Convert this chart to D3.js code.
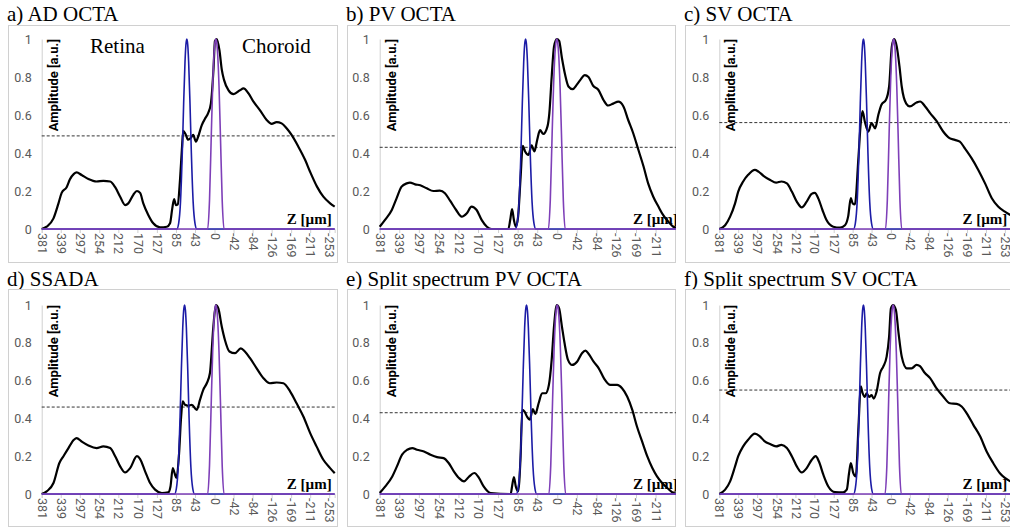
<!doctype html>
<html lang="en">
<head>
<meta charset="utf-8">
<script src="https://cdnjs.cloudflare.com/ajax/libs/d3/7.8.5/d3.min.js"></script>
<style>
  body { margin: 0; background: #fff; }
  svg { display: block; }
  .axis text { font-family: Roboto, sans-serif; font-size: 12.5px; fill: #595959; }
  .axis line, .axis path { stroke: #d0d0d0; }
  .title { font-family: 'Liberation Serif', serif; font-size: 21px; fill: #000; }
  .ytitle { font-family: Roboto, sans-serif; font-size: 13px; font-weight: bold; fill: #000; }
  .ztitle { font-family: 'Liberation Serif', serif; font-size: 15px; font-weight: bold; fill: #000; }
</style>
</head>
<body>
<script>

// x tick labels (depth in um) and y ticks
const zTicks = [381, 339, 297, 254, 212, 170, 127, 85, 43, 0, -42, -84, -126, -169, -211, -253];
const yTicks = [0, 0.2, 0.4, 0.6, 0.8, 1];
const zMax = 381, zMin = -265;

const panelTitles = ["a) AD OCTA", "b) PV OCTA", "c) SV OCTA",
                     "d) SSADA", "e) Split spectrum PV OCTA", "f) Split spectrum SV OCTA"];

// dashed threshold level per panel
const thresholds = [0.49, 0.43, 0.56, 0.46, 0.43, 0.55];

// centres of the two reference peaks per panel (um)
const blueCenters = [61, 68, 61, 66, 66, 61];
const purpleCenters = [-3, 1, -6, -3, 0, -5];

// peak shapes: offset from centre (um) -> amplitude
const peakOffsets = [22, 18, 14, 10, 7, 4, 2, 0, -2, -4, -7, -10, -14, -18, -22];
const bluePeak =    [0, 0.03, 0.14, 0.40, 0.66, 0.88, 0.97, 1, 0.97, 0.88, 0.66, 0.40, 0.14, 0.03, 0];
const purplePeak =  [0, 0.00, 0.15, 0.50, 0.75, 0.92, 0.98, 1, 0.98, 0.92, 0.75, 0.50, 0.15, 0.00, 0];

// black profiles [z (um), amplitude]
const adOcta = [[381,0],[370,0.012],[355,0.056],[344,0.135],[337,0.19],[326,0.22],[319,0.26],[310,0.29],[304,0.298],[293,0.284],[278,0.263],[260,0.25],[245,0.253],[230,0.25],[219,0.22],[208,0.17],[197,0.126],[190,0.135],[179,0.18],[171,0.2],[164,0.19],[157,0.135],[146,0.074],[135,0.03],[120,0.009],[105,0.012],[98,0.03],[93,0.11],[89,0.158],[85,0.126],[81,0.13],[76,0.26],[72,0.415],[69,0.517],[64,0.5],[58,0.47],[52,0.48],[47,0.495],[41,0.46],[36,0.486],[28,0.547],[21,0.58],[14,0.61],[8,0.66],[2,0.85],[-1,0.99],[-5,1.0],[-11,0.94],[-16,0.84],[-21,0.785],[-31,0.73],[-42,0.71],[-56,0.73],[-64,0.74],[-75,0.714],[-86,0.67],[-100,0.626],[-115,0.574],[-126,0.553],[-137,0.563],[-148,0.556],[-159,0.53],[-170,0.495],[-185,0.433],[-200,0.363],[-211,0.3],[-226,0.223],[-240,0.17],[-255,0.135],[-265,0.118]];

const pvOcta = [[381,0.012],[370,0.047],[355,0.1],[345,0.16],[334,0.223],[323,0.24],[316,0.244],[305,0.235],[294,0.23],[280,0.214],[266,0.2],[252,0.202],[241,0.188],[230,0.149],[217,0.1],[205,0.065],[194,0.083],[184,0.118],[173,0.1],[162,0.047],[151,0.012],[141,0],[105,0],[101,0.047],[97,0.105],[93,0.047],[89,0.012],[84,0.065],[79,0.258],[74,0.438],[69,0.408],[62,0.39],[55,0.44],[49,0.408],[43,0.47],[37,0.52],[30,0.5],[21,0.54],[17,0.61],[12,0.8],[7,0.96],[1,1.0],[-4,0.99],[-10,0.9],[-17,0.81],[-24,0.75],[-33,0.736],[-42,0.76],[-50,0.786],[-59,0.81],[-67,0.8],[-77,0.754],[-88,0.733],[-99,0.68],[-109,0.65],[-120,0.66],[-131,0.67],[-142,0.645],[-152,0.575],[-163,0.504],[-174,0.417],[-185,0.33],[-195,0.24],[-206,0.17],[-217,0.118],[-227,0.074],[-238,0.039],[-249,0.012],[-265,0]];

const svOcta = [[381,0],[368,0.02],[357,0.065],[346,0.135],[339,0.197],[328,0.25],[317,0.285],[302,0.311],[294,0.302],[283,0.28],[268,0.258],[255,0.244],[243,0.25],[231,0.24],[220,0.197],[209,0.144],[198,0.114],[187,0.144],[176,0.185],[169,0.19],[161,0.16],[152,0.1],[143,0.047],[128,0.012],[113,0.007],[102,0.02],[95,0.065],[89,0.162],[85,0.135],[80,0.13],[72,0.38],[67,0.557],[63,0.62],[58,0.566],[50,0.513],[43,0.557],[35,0.53],[28,0.6],[21,0.654],[11,0.68],[4,0.75],[-2,0.96],[-7,1.0],[-13,0.96],[-19,0.856],[-24,0.75],[-34,0.66],[-42,0.645],[-57,0.666],[-65,0.671],[-76,0.645],[-87,0.61],[-102,0.566],[-116,0.513],[-130,0.478],[-142,0.469],[-153,0.46],[-164,0.425],[-179,0.373],[-194,0.311],[-209,0.24],[-224,0.162],[-238,0.118],[-253,0.091],[-265,0.074]];

const ssada = [[381,0],[370,0.014],[355,0.058],[342,0.164],[333,0.2],[322,0.243],[310,0.287],[304,0.296],[293,0.278],[278,0.257],[260,0.243],[245,0.252],[230,0.243],[219,0.2],[208,0.146],[197,0.114],[186,0.137],[171,0.2],[164,0.185],[153,0.12],[142,0.058],[131,0.023],[116,0.005],[102,0.009],[97,0.04],[92,0.137],[88,0.11],[84,0.085],[78,0.217],[74,0.393],[70,0.49],[65,0.472],[58,0.467],[50,0.472],[39,0.445],[32,0.498],[25,0.55],[17,0.586],[10,0.64],[2.5,0.886],[-3,1.0],[-8.5,0.982],[-16,0.886],[-23,0.815],[-33,0.754],[-45,0.745],[-58,0.77],[-67,0.754],[-78,0.72],[-93,0.665],[-108,0.613],[-122,0.586],[-137,0.59],[-152,0.586],[-167,0.542],[-181,0.48],[-196,0.41],[-211,0.322],[-225,0.252],[-240,0.181],[-255,0.137],[-265,0.11]];

const splitPv = [[381,0.005],[369,0.04],[354,0.093],[344,0.146],[333,0.208],[322,0.234],[311,0.243],[301,0.234],[286,0.225],[272,0.208],[258,0.195],[244,0.19],[233,0.164],[222,0.12],[211,0.085],[200,0.067],[190,0.09],[178,0.111],[168,0.085],[158,0.04],[143,0.005],[100,0],[97,0.04],[93,0.09],[89,0.04],[84,0.014],[79,0.18],[75,0.445],[70.5,0.437],[65,0.41],[59,0.393],[52.5,0.449],[47,0.424],[40,0.48],[32.5,0.533],[25,0.533],[18,0.577],[12,0.71],[7,0.886],[1,1.0],[-4,0.982],[-10,0.886],[-15.5,0.8],[-23,0.71],[-32,0.683],[-42.5,0.7],[-53,0.745],[-60.5,0.759],[-67.5,0.741],[-78,0.7],[-89,0.665],[-100,0.613],[-114,0.577],[-128.5,0.577],[-139,0.56],[-150,0.516],[-161,0.445],[-171,0.357],[-182,0.278],[-193,0.2],[-204,0.137],[-214,0.093],[-225,0.058],[-236,0.032],[-250,0.005],[-265,0]];

const splitSv = [[381,0],[368,0.023],[357,0.067],[346,0.146],[339,0.2],[328,0.252],[317,0.287],[302,0.319],[291,0.305],[280,0.278],[268.5,0.264],[255,0.252],[243,0.26],[231,0.243],[220,0.2],[209,0.146],[198,0.114],[187,0.137],[176,0.18],[167,0.2],[160,0.173],[150,0.102],[139,0.04],[124,0.01],[106,0.009],[98,0.023],[93,0.11],[89,0.164],[83.5,0.11],[78,0.093],[72,0.357],[67,0.57],[63,0.535],[58,0.514],[54,0.532],[48,0.514],[43,0.523],[38,0.505],[32,0.54],[24,0.64],[17,0.674],[9.5,0.727],[4,0.833],[0,0.982],[-5,1.0],[-11,0.974],[-17,0.85],[-24,0.727],[-35,0.665],[-46,0.665],[-57,0.683],[-64.5,0.676],[-75.5,0.64],[-87,0.613],[-101,0.56],[-116,0.516],[-131,0.48],[-146,0.477],[-157,0.463],[-168,0.428],[-183,0.366],[-198,0.305],[-212.5,0.225],[-227,0.164],[-242,0.11],[-253,0.085],[-265,0.067]];

const profiles = [adOcta, pvOcta, svOcta, ssada, splitPv, splitSv];

// layout of the 3x2 grid (the source figure is a cropped montage)
const cols = [
  { left: 8,   right: 338,  x0: 41.7,  step: 19.17 },
  { left: 347, right: 676,  x0: 379.7, step: 19.7 },
  { left: 685, right: 1030, x0: 719.3, step: 19.04 }
];
const rows = [
  { top: 25,  bottom: 263, y1: 39,  y0: 229, titleY: 21 },
  { top: 289, bottom: 527, y1: 305, y0: 494, titleY: 286 }
];

const w = 1010, h = 529;
const svg = d3.select("body").append("svg").attr("width", w).attr("height", h);

function peakSeries(center, shape) {
  const pts = [[zMax, 0]];
  peakOffsets.forEach((o, i) => pts.push([center + o, shape[i]]));
  pts.push([zMin, 0]);
  return pts;
}

profiles.forEach((profile, i) => {
  const c = cols[i % 3], r = rows[Math.floor(i / 3)];
  const xEnd = c.x0 + (zMax - zMin) / 42.27 * c.step;

  const x = d3.scaleLinear().domain([zMax, zMin]).range([c.x0, xEnd]);
  const y = d3.scaleLinear().domain([0, 1]).range([r.y0, r.y1]);

  svg.append("clipPath").attr("id", "clip" + i)
    .append("rect")
    .attr("x", c.left).attr("y", r.top)
    .attr("width", c.right - c.left).attr("height", r.bottom - r.top);

  // title
  svg.append("text").attr("class", "title")
    .attr("x", c.left - 1).attr("y", r.titleY)
    .text(panelTitles[i]);

  const g = svg.append("g").attr("clip-path", "url(#clip" + i + ")");

  // frame
  g.append("rect")
    .attr("x", c.left + 0.5).attr("y", r.top + 0.5)
    .attr("width", c.right - c.left - 1).attr("height", r.bottom - r.top - 1)
    .attr("fill", "#fff").attr("stroke", "#d0d0d0");

  // y axis
  g.append("g").attr("class", "axis")
    .attr("transform", "translate(" + c.x0 + ",0)")
    .call(d3.axisLeft(y).tickValues(yTicks).tickSize(0).tickPadding(10)
      .tickFormat(d => d === 0 || d === 1 ? d : d3.format(".1f")(d)));

  // x axis with labels turned 90 degrees
  const xAxis = g.append("g").attr("class", "axis")
    .attr("transform", "translate(0," + r.y0 + ")")
    .call(d3.axisBottom(x).tickValues(zTicks.filter(v => x(v) < c.right - 6))
      .tickSize(4).tickFormat(d => d));
  xAxis.select(".domain").attr("stroke", "#d0d0d0");
  xAxis.selectAll(".tick text")
    .attr("transform", "rotate(90)")
    .attr("x", 4).attr("y", 0).attr("dy", "0.35em")
    .style("text-anchor", "start");

  // threshold
  g.append("line")
    .attr("x1", x(zMax)).attr("x2", x(zMin))
    .attr("y1", y(thresholds[i])).attr("y2", y(thresholds[i]))
    .attr("stroke", "#333").attr("stroke-width", 1).attr("stroke-dasharray", "3,2");

  // axis titles
  g.append("text").attr("class", "ytitle")
    .attr("transform", "translate(" + (c.x0 + 16) + "," + r.y1 + ") rotate(-90)")
    .attr("text-anchor", "end")
    .text("Amplitude [a.u.]");

  g.append("text").attr("class", "ztitle")
    .attr("x", x(zMin) - 3).attr("y", r.y0 - 5)
    .attr("text-anchor", "end")
    .text("Z [\u00b5m]");

  const line = d3.line().x(d => x(d[0])).y(d => y(d[1])).curve(d3.curveMonotoneX);

  g.append("path").datum(profile)
    .attr("d", line).attr("fill", "none")
    .attr("stroke", "#000").attr("stroke-width", 2.2).attr("stroke-linejoin", "round");

  g.append("path").datum(peakSeries(blueCenters[i], bluePeak))
    .attr("d", line).attr("fill", "none")
    .attr("stroke", "#1c1ca6").attr("stroke-width", 1.6);

  g.append("path").datum(peakSeries(purpleCenters[i], purplePeak))
    .attr("d", line).attr("fill", "none")
    .attr("stroke", "#7e3fb8").attr("stroke-width", 1.6);

  if (i === 0) {
    g.append("text").attr("class", "title").attr("x", c.left + 82).attr("y", 53).text("Retina");
    g.append("text").attr("class", "title").attr("x", c.left + 234).attr("y", 53).text("Choroid");
  }
});

</script>
</body>
</html>
